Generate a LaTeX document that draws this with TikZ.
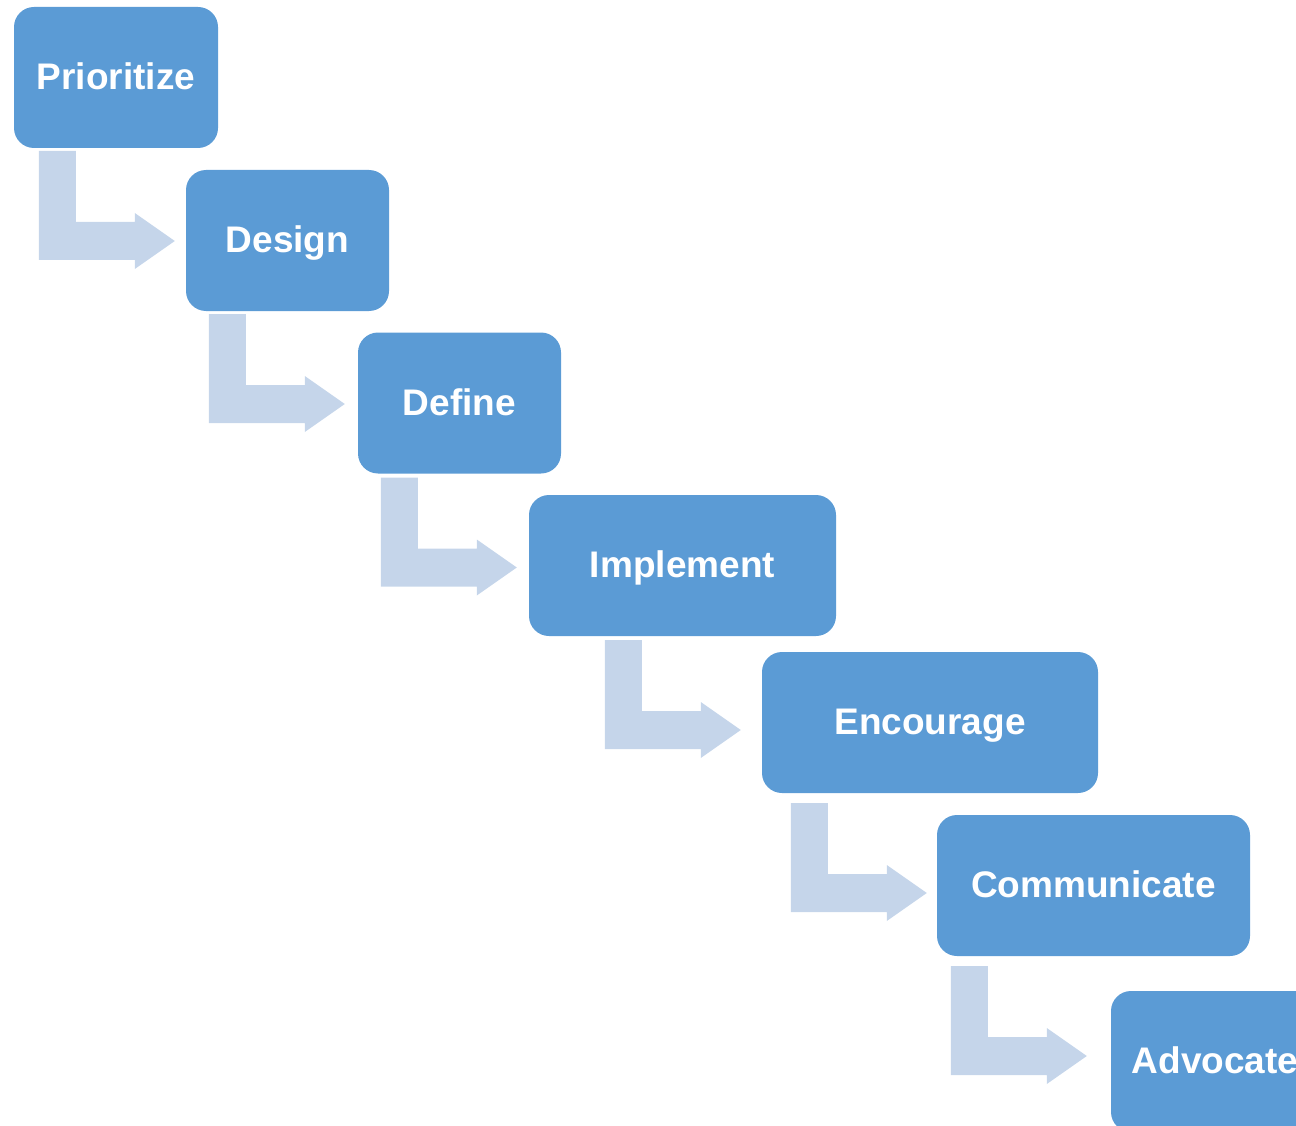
\documentclass[tikz,border=0pt]{standalone}
\usepackage{fontspec}
\setmainfont{Liberation Sans}
\usetikzlibrary{calc}
\definecolor{boxblue}{HTML}{5B9BD5}
\definecolor{arrblue}{HTML}{C5D5EA}
\begin{document}
\begin{tikzpicture}[x=1pt, y=-1pt,
  stepbox/.style={rectangle, rounded corners=20pt, fill=boxblue, text=white, inner sep=0pt,
    minimum height=141pt, text height=32pt, text depth=8pt,
    font=\fontsize{37}{44}\selectfont\bfseries},
  bentarr/.style={fill=arrblue}]
\useasboundingbox (0,0) rectangle (1296,1126);
\clip (0,0) rectangle (1296,1126);

\node[stepbox, minimum width=204pt] (s1) at (116,77.5) {Prioritize};
\node[stepbox, minimum width=203pt] (s2) at (287.5,240.5) {Design};
\node[stepbox, minimum width=203pt] (s3) at (459.5,403) {Define};
\node[stepbox, minimum width=307pt] (s4) at (682.5,565.5) {Implement};
\node[stepbox, minimum width=336pt] (s5) at (930,722.5) {Encourage};
\node[stepbox, minimum width=313pt] (s6) at (1093.5,885.5) {Communicate};
\node[stepbox, minimum width=208pt] (s7) at (1215,1061.5) {Advocate};

\foreach \a/\b/\dx/\dy in {s1/s2/-11/0.5, s2/s3/-13/1, s3/s4/-12/2, s4/s5/-21/7.5, s5/s6/-10/7.5, s6/s7/-24/-5.5}{
  \coordinate (t\b) at ($(\b.west)+(\dx,\dy)$);
  \fill[bentarr] (t\b) ++(-136,-90) -- ++(37,0) -- ++(0,71) -- ++(59,0) -- ++(0,-9)
    -- (t\b) -- ++(-40,28) -- ++(0,-9) -- ++(-96,0) -- cycle;
}

\end{tikzpicture}
\end{document}
